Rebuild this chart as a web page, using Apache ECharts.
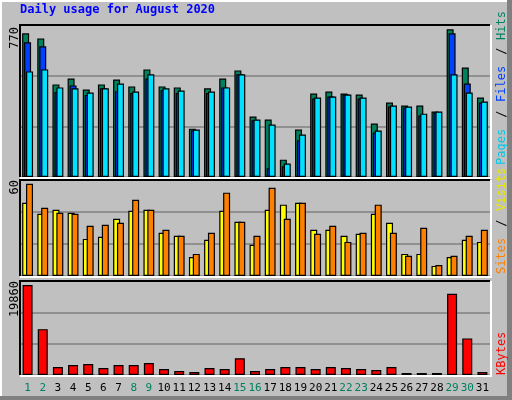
<!DOCTYPE html>
<html><head><meta charset="utf-8">
<script src="https://cdn.jsdelivr.net/npm/echarts@6/dist/echarts.min.js"></script>
<style>html,body{margin:0;padding:0;background:#C0C0C0}#c{width:512px;height:400px}</style>
</head><body><div id="c"></div>
<script>
const days = ['1','2','3','4','5','6','7','8','9','10','11','12','13','14','15','16','17','18','19','20','21','22','23','24','25','26','27','28','29','30','31'];
const weekend = ['1','2','8','9','15','16','22','23','29','30'];
const hits  = [728,702,469,499,443,469,494,459,545,459,454,245,449,499,540,306,291,88,240,423,433,423,418,271,377,362,362,332,748,555,403];
const files = [682,662,430,464,415,449,435,425,499,440,425,237,425,454,520,288,44,54,186,398,408,418,398,225,357,352,311,327,728,474,377];
const pages = [535,545,454,449,428,449,474,433,520,449,438,240,433,454,520,291,266,68,215,403,408,418,403,235,362,357,321,332,520,428,382];
const sites  = [45.8,38.9,41.4,39.5,23.2,24.5,35.8,40.8,41.4,27,25.1,11.9,22.6,40.8,33.9,19.5,41.4,44.6,45.8,28.9,28.9,25.1,26.4,38.9,33.3,13.8,13.8,6.3,11.9,22.6,21.3];
const visits = [57.7,42.7,39.5,38.9,31.4,32,33.3,47.7,41.4,28.9,25.1,13.8,27,52.1,33.9,25.1,55.2,35.8,45.8,26.4,31.4,21.3,27,44.6,27,12.6,30.1,6.9,12.6,25.1,28.9];
const kbytes = [19024,9686,1672,2090,2300,1463,2090,2090,2509,1254,836,627,1463,1254,3554,836,1254,1672,1672,1254,1672,1463,1254,1045,1672,418,418,418,17142,7735,627];
const maxHits = 770, maxSites = 60, maxKB = 19860;

const FONT = 'DejaVu Sans Mono';
const grids = [
  {left:20, right:22, top:25, height:152},
  {left:20, right:22, top:180, height:96},
  {left:20, right:22, top:281, height:94}
];
const bord = {borderColor:'#000', borderWidth:1.2};
function bar(name, data, color, xi, w, gap, z){
  return {type:'bar', name, data, xAxisIndex:xi, yAxisIndex:xi, barWidth:w, barGap:gap,
    itemStyle:Object.assign({color}, bord), z, animation:false, silent:true};
}
function yAx(i,max){return {gridIndex:i,min:0,max,interval:max/3,axisLabel:{show:false},axisLine:{show:false},axisTick:{show:false},
  splitLine:{show:true,lineStyle:{color:'#808080',width:1.5}}};}
function xAx(i,show){return {type:'category',gridIndex:i,data:days,axisLine:{show:false},axisTick:{show:false},
  axisLabel:{show, interval:0, margin:8, fontFamily:FONT, fontSize:11, hideOverlap:false,
    formatter:v=> weekend.includes(v)?'{w|'+v+'}':'{d|'+v+'}',
    rich:{w:{color:'#008060',fontFamily:FONT,fontSize:11},d:{color:'#000',fontFamily:FONT,fontSize:11}}}};}

const graphic = [
  {type:'rect',shape:{x:0,y:0,width:512,height:400},style:{fill:'#C0C0C0'},z:-10,silent:true},
  {type:'polyline',shape:{points:[[1,399],[1,1],[508,1]]},style:{stroke:'#fff',lineWidth:2,fill:null},z:-9},
  {type:'rect',shape:{x:507,y:0,width:5,height:400},style:{fill:'#808080'},z:-9},
  {type:'rect',shape:{x:0,y:396,width:512,height:4},style:{fill:'#808080'},z:-9},
  {type:'text',left:20,top:4,style:{text:'Daily usage for August 2020',fill:'#0000FF',font:'bold 12px '+FONT}},
];
grids.forEach(g=>{
  const x0=g.left, x1=512-g.right, y0=g.top, y1=g.top+g.height;
  graphic.push({type:'polyline',shape:{points:[[x0,y1],[x0,y0],[x1,y0]]},style:{stroke:'#000',lineWidth:2,fill:null},z:50});
  graphic.push({type:'polyline',shape:{points:[[x1+1,y0],[x1+1,y1+1],[x0,y1+1]]},style:{stroke:'#fff',lineWidth:2,fill:null},z:50});
});
function leftLab(t,y){return {type:'text',x:9,y,rotation:Math.PI/2,style:{text:t,fill:'#000',font:'12px '+FONT,align:'right',verticalAlign:'top'}};}
graphic.push(leftLab('770',27),leftLab('60',180),leftLab('19860',281));
function rl(t,y,c){return {type:'text',x:496,y,rotation:Math.PI/2,style:{text:t,fill:c,font:'12px '+FONT,verticalAlign:'top'}};}
graphic.push(rl('Pages',165,'#00C8E8'),rl(' / ',125,'#000'),rl('Files',102,'#0040FF'),rl(' / ',62,'#000'),rl('Hits',40,'#008060'));
graphic.push(rl('Sites',274,'#FF8000'),rl(' / ',234,'#000'),rl('Visits',211,'#E8E800'));
graphic.push(rl('KBytes',375,'#FF0000'));

const chart = echarts.init(document.getElementById('c'),null,{renderer:'canvas'});
chart.setOption({
  animation:false,
  backgroundColor:'#C0C0C0',
  grid:grids,
  xAxis:[xAx(0,false),xAx(1,false),xAx(2,true)],
  yAxis:[yAx(0,maxHits),yAx(1,maxSites),yAx(2,maxKB)],
  series:[
    bar('Hits',hits,'#00805C',0,7,'-72%',2),
    bar('Files',files,'#0040FF',0,7,'-72%',3),
    bar('Pages',pages,'#00E0FF',0,7,'-72%',4),
    bar('Sites',sites,'#FFFF00',1,7,'-45%',2),
    bar('Visits',visits,'#FF8000',1,7,'-45%',3),
    bar('KBytes',kbytes,'#FF0000',2,10,'0%',2)
  ],
  graphic
});
</script></body></html>
